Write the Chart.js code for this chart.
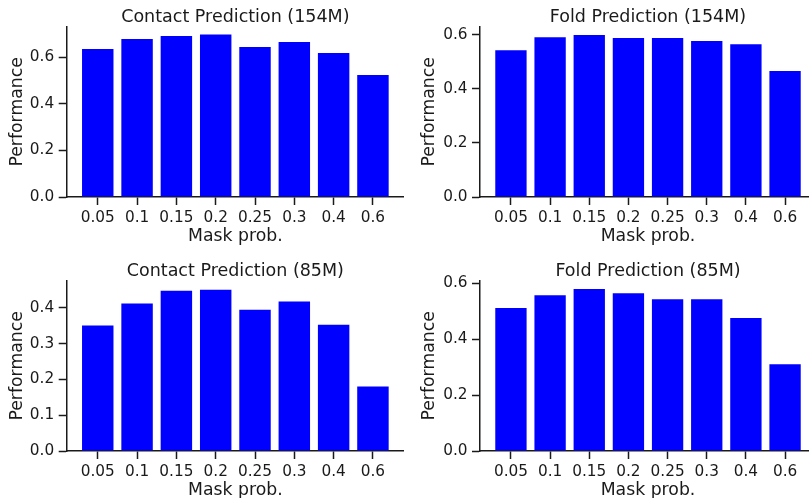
<!DOCTYPE html>
<html>
<head>
<meta charset="utf-8">
<script src="https://cdn.jsdelivr.net/npm/chart.js@4.4.0/dist/chart.umd.min.js"></script>
<style>
    html, body { margin: 0; padding: 0; background: #fff; overflow: hidden; }
    body { width: 809px; height: 498px; position: relative; }
    .panel { position: absolute; }
</style>
</head>
<body>
<div class="panel" style="left:0px;top:0px;width:404px;height:250px"><canvas id="contact154"></canvas></div>
<div class="panel" style="left:405px;top:0px;width:411px;height:250px"><canvas id="fold154"></canvas></div>
<div class="panel" style="left:0px;top:254px;width:404px;height:250px"><canvas id="contact85"></canvas></div>
<div class="panel" style="left:405px;top:254px;width:411px;height:250px"><canvas id="fold85"></canvas></div>
<script>
// =========================
// Mask probability sweep
// =========================

const maskProbs = ['0.05', '0.1', '0.15', '0.2', '0.25', '0.3', '0.4', '0.6'];

const contact154 = [0.636, 0.679, 0.692, 0.698, 0.645, 0.666, 0.619, 0.524];
const fold154    = [0.543, 0.591, 0.599, 0.588, 0.588, 0.577, 0.565, 0.466];
const contact85  = [0.351, 0.412, 0.448, 0.451, 0.395, 0.418, 0.353, 0.180];
const fold85     = [0.512, 0.558, 0.580, 0.565, 0.544, 0.544, 0.476, 0.311];

const ticks154 = [0, 0.2, 0.4, 0.6];
const ticksContact85 = [0, 0.1, 0.2, 0.3, 0.4];
const ticksFold85 = [0, 0.2, 0.4, 0.6];

const FONT = "'DejaVu Sans', sans-serif";
const INK = '#1a1a1a';

function createPanel(id, title, values, yTicks, yMax, yAxisWidth, yTitlePad) {
    const ctx = document.getElementById(id).getContext('2d');
    const points = values.map((v, i) => ({ x: i, y: v }));

    return new Chart(ctx, {
        type: 'bar',
        data: {
            datasets: [{
                data: points,
                backgroundColor: '#0000ff',
                borderWidth: 0,
                barPercentage: 0.8,
                categoryPercentage: 1.0
            }]
        },
        options: {
            responsive: true,
            maintainAspectRatio: false,
            animation: false,
            layout: { padding: 0 },
            plugins: {
                legend: { display: false },
                tooltip: { enabled: false },
                title: {
                    display: true,
                    text: title,
                    fullSize: false,
                    color: INK,
                    font: { family: FONT, size: 17.5, weight: 'normal', lineHeight: 1.0 },
                    padding: { top: 8.25, bottom: 0.95 }
                }
            },
            scales: {
                x: {
                    type: 'linear',
                    offset: false,
                    min: -0.79,
                    max: 7.79,
                    afterBuildTicks: (scale) => {
                        scale.ticks = maskProbs.map((_, i) => ({ value: i }));
                    },
                    afterFit: (scale) => { scale.height = 53; },
                    ticks: {
                        callback: (value) => maskProbs[value],
                        color: INK,
                        font: { family: FONT, size: 15.3 },
                        padding: 3.5,
                        maxRotation: 0,
                        autoSkip: false
                    },
                    grid: {
                        offset: false,
                        drawOnChartArea: false,
                        drawTicks: true,
                        tickLength: 8,
                        tickWidth: 1.5,
                        tickColor: INK
                    },
                    border: { display: true, color: INK, width: 1.5 },
                    title: {
                        display: true,
                        text: 'Mask prob.',
                        color: INK,
                        font: { family: FONT, size: 17.3, lineHeight: 1.2 },
                        padding: { top: 0, bottom: 3 }
                    }
                },
                y: {
                    min: 0,
                    max: yMax,
                    afterBuildTicks: (scale) => {
                        scale.ticks = yTicks.map(v => ({ value: v }));
                    },
                    afterFit: (scale) => { scale.width = yAxisWidth; },
                    ticks: {
                        callback: (value) => value.toFixed(1),
                        color: INK,
                        font: { family: FONT, size: 15.3 },
                        padding: 4.5
                    },
                    grid: {
                        drawOnChartArea: false,
                        drawTicks: true,
                        tickLength: 8,
                        tickWidth: 1.5,
                        tickColor: INK
                    },
                    border: { display: true, color: INK, width: 1.5 },
                    title: {
                        display: true,
                        text: 'Performance',
                        color: INK,
                        font: { family: FONT, size: 17.3, lineHeight: 1.2 },
                        padding: { top: yTitlePad, bottom: 0 }
                    }
                }
            }
        }
    });
}

createPanel('contact154', 'Contact Prediction (154M)', contact154, ticks154, 0.732, 66.7, 7.1);
createPanel('fold154', 'Fold Prediction (154M)', fold154, ticks154, 0.630, 75, 14.1);
createPanel('contact85', 'Contact Prediction (85M)', contact85, ticksContact85, 0.476, 66.7, 7.1);
createPanel('fold85', 'Fold Prediction (85M)', fold85, ticksFold85, 0.610, 75, 14.1);
</script>
</body>
</html>
